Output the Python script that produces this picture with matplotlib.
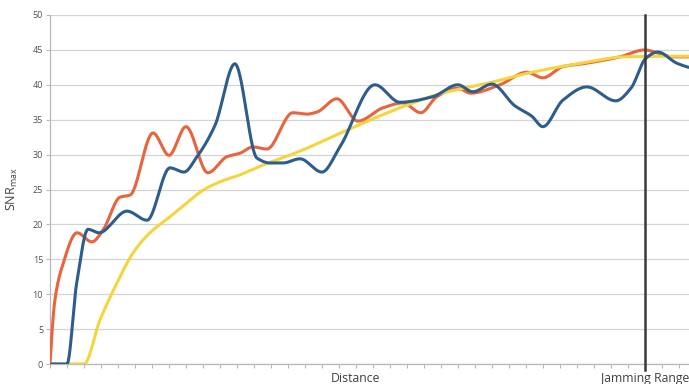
import numpy as np
import matplotlib
matplotlib.use("Agg")
import matplotlib.pyplot as plt

# --- data: (distance step, SNR_max) pairs for each curve ---
blue_x = [0, 1.0, 1.57, 2.24, 2.88, 4.53, 5.71, 7.06, 7.88, 8.65, 9.71, 10.88,
          12.18, 12.94, 13.71, 14.71, 16.0, 17.06, 19.12, 20.59, 22.53, 24.0,
          24.88, 26.0, 27.35, 28.35, 29.0, 30.18, 31.59, 33.29, 34.18, 35.06,
          35.76, 36.88, 37.59]
blue_y = [0, 0, 11.6, 19.3, 18.8, 21.9, 20.6, 28.1, 27.5, 29.7, 34.2, 43.0,
          29.5, 28.8, 28.8, 29.4, 27.5, 31.1, 40.0, 37.5, 38.3, 40.0,
          39.0, 40.1, 37.0, 35.5, 34.0, 37.8, 39.7, 37.7, 39.5, 43.8,
          44.7, 43.1, 42.5]

red_x = [0, 0.29, 0.71, 1.59, 2.47, 3.12, 4.12, 4.71, 6.06, 7.0, 8.0, 9.29,
         10.41, 11.18, 11.94, 12.76, 14.29, 15.12, 15.71, 16.88, 18.12, 19.59,
         20.76, 21.82, 22.76, 24.0, 24.76, 26.47, 28.06, 29.0, 30.18, 31.59,
         33.53, 35.0, 35.71, 36.65, 37.59]
red_y = [0, 9.2, 13.9, 18.8, 17.5, 19.2, 23.9, 24.2, 33.1, 29.9, 34.0, 27.4,
         29.7, 30.2, 31.1, 30.8, 36.0, 35.8, 36.1, 38.0, 34.8, 36.7,
         37.4, 36.0, 38.3, 39.5, 38.8, 40.0, 41.8, 41.0, 42.6, 43.1,
         44.0, 45.0, 44.6, 44.0, 44.0]

yellow_x = [0, 2.0, 2.94, 3.94, 4.88, 5.88, 7.06, 8.06, 9.0, 10.0, 11.18,
            12.53, 14.71, 17.65, 20.59, 22.94, 25.88, 27.82, 29.82, 31.76,
            33.71, 37.59]
yellow_y = [0, 0, 6.3, 11.6, 15.9, 18.8, 21.1, 23.1, 24.9, 26.1, 27.1,
            28.5, 30.5, 33.7, 36.7, 38.7, 40.3, 41.5, 42.5, 43.3,
            44.0, 44.1]

jamming_range = 35
tick_labels = {18: "Distance", 35: "Jamming Range"}
n_steps = 38


def pchip(x, y, xs):
    """Monotone piecewise cubic (Fritsch-Carlson) used for smooth lines."""
    x = np.asarray(x, float)
    y = np.asarray(y, float)
    h = np.diff(x)
    d = np.diff(y) / h
    n = len(x)
    m = np.zeros(n)
    for k in range(1, n - 1):
        if d[k - 1] * d[k] > 0:
            w1 = 2 * h[k] + h[k - 1]
            w2 = h[k] + 2 * h[k - 1]
            m[k] = (w1 + w2) / (w1 / d[k - 1] + w2 / d[k])

    def end_slope(h0, h1, d0, d1):
        s = ((2 * h0 + h1) * d0 - h0 * d1) / (h0 + h1)
        if np.sign(s) != np.sign(d0):
            return 0.0
        if np.sign(d0) != np.sign(d1) and abs(s) > abs(3 * d0):
            return 3 * d0
        return s

    m[0] = end_slope(h[0], h[1], d[0], d[1])
    m[-1] = end_slope(h[-1], h[-2], d[-1], d[-2])
    idx = np.clip(np.searchsorted(x, xs) - 1, 0, n - 2)
    t = (xs - x[idx]) / h[idx]
    h00 = 2 * t**3 - 3 * t**2 + 1
    h10 = t**3 - 2 * t**2 + t
    h01 = -2 * t**3 + 3 * t**2
    h11 = t**3 - t**2
    return (h00 * y[idx] + h10 * h[idx] * m[idx]
            + h01 * y[idx + 1] + h11 * h[idx] * m[idx + 1])


plt.rcParams["font.family"] = ["Open Sans", "DejaVu Sans"]

fig = plt.figure(figsize=(6.89, 3.84), dpi=100)
ax = fig.add_axes([50 / 689, 20 / 384, 1 - 50 / 689, 349 / 384])

xs_grid = np.linspace(0, 37.59, 1500)

ax.plot(xs_grid, pchip(red_x, red_y, xs_grid), color="#e8643c", lw=2.2,
        solid_capstyle="round", zorder=3)
ax.plot(xs_grid, pchip(yellow_x, yellow_y, xs_grid), color="#f4d53e", lw=2.2,
        solid_capstyle="round", zorder=3)
ax.plot(xs_grid, pchip(blue_x, blue_y, xs_grid), color="#2d5d8c", lw=2.2,
        solid_capstyle="round", zorder=4)

ax.axvline(jamming_range, ymin=-0.018, ymax=1, color="#3a3a3a", lw=1.8,
           clip_on=False, zorder=5)

ax.set_xlim(0, 37.6)
ax.set_ylim(0, 50)
ax.set_yticks(np.arange(0, 51, 5))
ax.yaxis.grid(True, color="#d4d4d4", lw=0.9)
ax.set_axisbelow(True)

ax.set_xticks(range(n_steps))
ax.set_xticklabels([tick_labels.get(i, "") for i in range(n_steps)])
ax.tick_params(axis="x", length=3, color="#b8b8b8", labelsize=8.8,
               labelcolor="#404040", pad=3)
ax.tick_params(axis="y", length=3, color="#b8b8b8", labelsize=6.5,
               labelcolor="#505050", pad=2)

for side in ("top", "right"):
    ax.spines[side].set_visible(False)
for side in ("left", "bottom"):
    ax.spines[side].set_color("#b8b8b8")
    ax.spines[side].set_linewidth(0.9)

ax.set_ylabel(r"SNR$_{\mathregular{max}}$", fontsize=9, color="#404040",
              labelpad=9)

fig.savefig("out.png", dpi=100)
